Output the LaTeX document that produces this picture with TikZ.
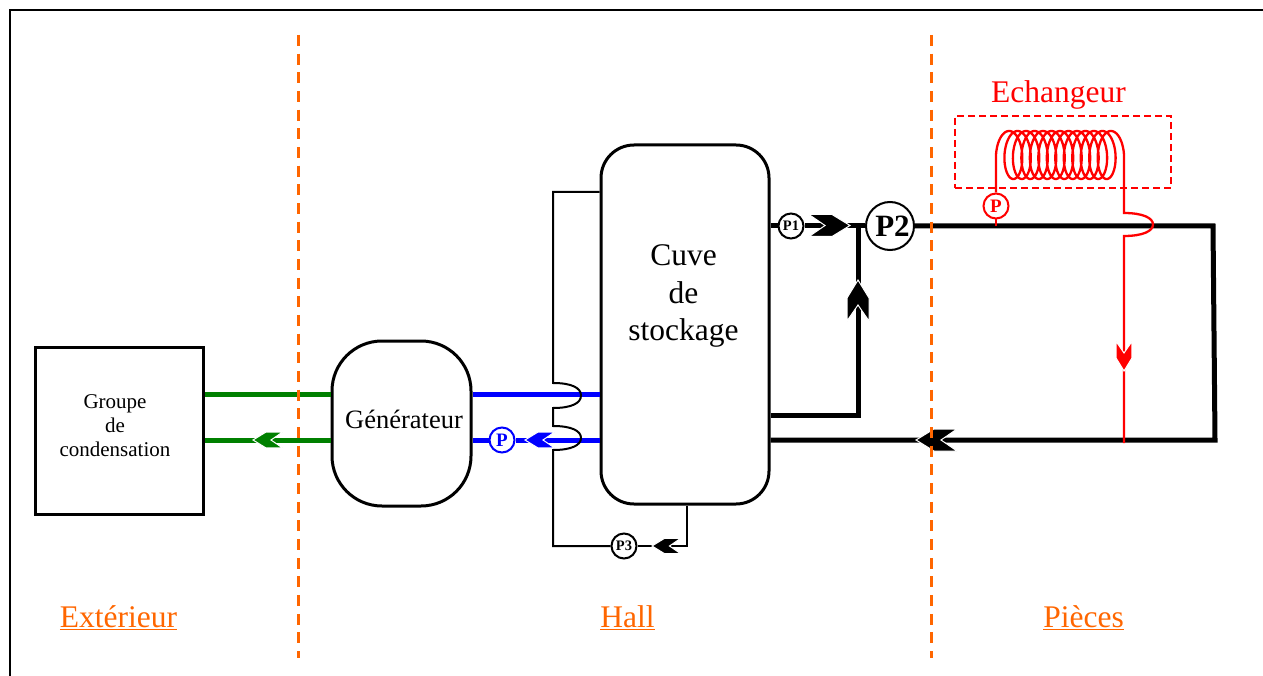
\documentclass[tikz,border=0pt]{standalone}
\usepackage{fontspec}
\setmainfont{Liberation Serif}
\usetikzlibrary{positioning,calc}
\definecolor{zone}{HTML}{FF6600}
\definecolor{vert}{HTML}{008000}
\definecolor{bleu}{HTML}{0000FF}
\definecolor{rouge}{HTML}{FF0000}

\begin{document}
\begin{tikzpicture}[
    x=1pt, y=-1pt,
    bloc/.style={draw, line width=3pt, inner sep=0pt},
    libelle/.style={align=center, inner sep=0pt, font=\fontsize{31.5}{37.5}\selectfont},
    zonetxt/.style={text=zone, inner sep=0pt, font=\fontsize{31.5}{37}\selectfont},
    pompe/.style={circle, draw, line width=2pt, fill=white, inner sep=0pt, minimum size=25pt, font=\fontsize{14.5}{15}\selectfont\bfseries},
    tuyau/.style={line width=5pt},
    fin/.style={line width=2pt},
    limite/.style={zone, line width=3pt, dash pattern=on 11pt off 7.67pt},
    flowtip/.pic={\path[pic actions] (0,0) -- (-18,-11) -- (-41,-11) -- (-25,0) -- (-41,11) -- (-18,11) -- cycle;}
]
\useasboundingbox (0,0) rectangle (1263,676);

% Frame
\draw[line width=2pt] (10,676) -- (10,10) -- (1263,10);

% Blocks
\node[bloc, minimum width=168pt, minimum height=167pt] (groupe) at (119,430.5) {};
\node[bloc, rounded corners=50pt, minimum width=139pt, minimum height=165pt] (generateur) at (401.5,423.5) {};
\node[bloc, rounded corners=33pt, minimum width=168pt, minimum height=359pt] (cuve) at (685,324.5) {};
\node[libelle, font=\fontsize{21}{24}\selectfont] at (115,426) {Groupe\\de\\condensation};
\node[libelle, font=\fontsize{26.5}{30}\selectfont] at (404,419.5) {Générateur};
\node[libelle] at (683.5,296) {Cuve\\de\\stockage};

% Pumps
\node[pompe] (p1) at (791,226) {P1};
\node[pompe, minimum size=48pt, font=\fontsize{31}{32}\selectfont\bfseries] (p2) at (890,226) {\hspace{5pt}P2};
\node[pompe] (p3) at (624,546) {P3};
\node[pompe, draw=bleu, text=bleu, font=\fontsize{19}{20}\selectfont\bfseries] (pb) at (502,440) {P};
\node[pompe, draw=rouge, text=rouge, font=\fontsize{19}{20}\selectfont\bfseries] (pr) at (996,206) {P};

% Reference heights and corners
\coordinate (ligneH) at (0,394);
\coordinate (ligneB) at (0,440);
\coordinate (ligneC) at (0,415);
\coordinate (ligneD) at (0,226);
\coordinate (hautD) at (1213,226);
\coordinate (basD) at (1215,440);
\coordinate (jonction) at (858,226);
\coordinate (coude) at (858,415);
\coordinate (retourH) at (553,192);
\coordinate (retourB) at (553,546);
\coordinate (fond) at (687,546);
\coordinate (coilA) at (996,155);
\coordinate (piquage) at (996,226);
\coordinate (chute) at (1124,443);

% Green lines
\draw[vert, tuyau] (groupe.east |- ligneH) -- (generateur.west |- ligneH);
\draw[vert, tuyau] (generateur.west |- ligneB) -- (groupe.east |- ligneB);
\pic[fill=vert, draw=white, line width=1pt, scale=.72, rotate=180] at (253,440) {flowtip};

% Blue lines
\draw[bleu, tuyau] (generateur.east |- ligneH) -- (cuve.west |- ligneH);
\draw[bleu, tuyau] (cuve.west |- ligneB) -- (pb);
\draw[bleu, tuyau] (pb) -- (generateur.east |- ligneB);
\pic[fill=bleu, draw=white, line width=1pt, scale=.72, rotate=180] at (525,440) {flowtip};

% Return line behind the generator side
\draw[fin] (cuve.west |- retourH) -- (retourH) -- (553,383)
    .. controls (572,383) and (581,388) .. (581,395.5)
    .. controls (581,403) and (572,408) .. (553,408) -- (553,426)
    .. controls (572,426) and (581,431) .. (581,438)
    .. controls (581,445) and (572,450) .. (553,450) -- (retourB) -- (p3);
\draw[fin] (cuve.south -| fond) -- (fond) -- (p3);
\pic[fill=black, draw=white, line width=1pt, scale=.7, rotate=180] at (652,546) {flowtip};

% Main circuit
\draw[tuyau] (cuve.east |- ligneD) -- (p1);
\draw[tuyau] (p1) -- (p2);
\draw[tuyau] (p2) -- (hautD) -- (basD) -- (cuve.east |- ligneB);
\draw[tuyau] (cuve.east |- ligneC) -- (coude) -- (jonction);
\pic[fill=black, draw=white, line width=1pt] at (850,225.5) {flowtip};
\pic[fill=black, draw=white, line width=1pt, rotate=90] at (858,280) {flowtip};
\pic[fill=black, draw=white, line width=1pt, rotate=180] at (916,440) {flowtip};

% Exchanger
\node[libelle, text=rouge] (echangeur) at (1058.5,95) {Echangeur};
\node[draw=rouge, line width=2pt, dash pattern=on 7pt off 4pt, minimum width=216pt, minimum height=72pt, inner sep=0pt] (cadre) at (1063,152) {};
\draw[rouge, line width=2.3pt, samples=900, domain=0:4500] (pr) -- (coilA)
    -- plot ({1007+\x/4500*106-11*cos(\x)}, {155-24*sin(\x)})
    -- (1124,213)
    .. controls (1143,213) and (1153,218) .. (1153,224.5)
    .. controls (1153,231) and (1143,236) .. (1124,236) -- (chute);
\draw[rouge, fin] (pr) -- (piquage);
\pic[fill=rouge, draw=white, line width=1pt, scale=.72, rotate=-90] at (1124,371) {flowtip};

% Zones
\draw[limite] (298,35) -- (298,658);
\draw[limite] (931,35) -- (931,658);
\node[zonetxt] at (118.5,618) {\underline{Extérieur}};
\node[zonetxt] at (627.5,618) {\underline{Hall}};
\node[zonetxt] at (1083.5,618) {\underline{Pièces}};

\end{tikzpicture}
\end{document}
